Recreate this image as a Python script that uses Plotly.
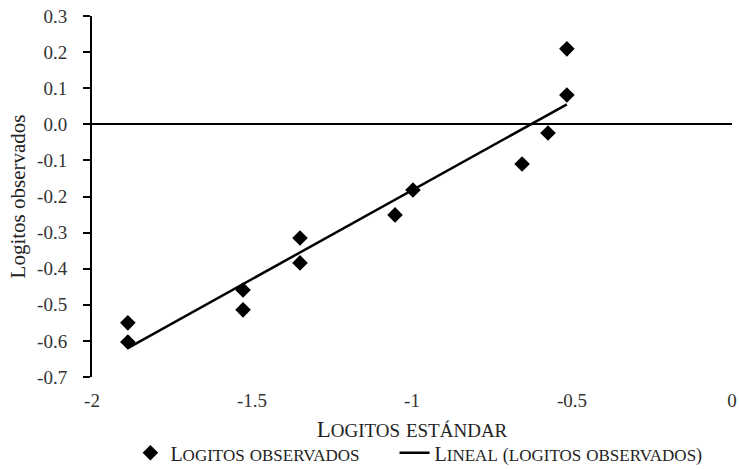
import numpy as np
import plotly.graph_objects as go

# Observed vs. standard logits
logitos_estandar = [-1.888, -1.888, -1.528, -1.528, -1.35, -1.35, -1.053, -0.997,
                    -0.656, -0.575, -0.516, -0.516]
logitos_observados = [-0.550, -0.603, -0.459, -0.514, -0.315, -0.384, -0.251, -0.182,
                      -0.110, -0.024, 0.081, 0.209]

x_ticks = [-2, -1.5, -1, -0.5, 0]
x_ticktext = ["-2", "-1.5", "-1", "-0.5", "0"]
y_ticks = [0.3, 0.2, 0.1, 0.0, -0.1, -0.2, -0.3, -0.4, -0.5, -0.6, -0.7]
y_ticktext = ["0.3", "0.2", "0.1", "0.0", "-0.1", "-0.2", "-0.3", "-0.4", "-0.5", "-0.6", "-0.7"]

# Linear trend line over the observed x range
slope, intercept = np.polyfit(logitos_estandar, logitos_observados, 1)
x_fit = np.array([min(logitos_estandar), max(logitos_estandar)])
y_fit = slope * x_fit + intercept

FONT = "Liberation Serif"


def small_caps(text, small):
    """Small capitals: initial capitals keep the base size, the rest are reduced."""
    out = []
    for ch in text:
        if ch.isalpha() and not ch.isupper():
            out.append(f'<span style="font-size:{small}px">{ch.upper()}</span>')
        elif ch in "()":
            out.append(f'<span style="font-size:{small + 1}px">{ch}</span>')
        else:
            out.append(ch)
    return "".join(out)


GAP = "\u00a0" * 6  # spacing between the two legend entries

fig = go.Figure()
fig.add_trace(go.Scatter(
    x=logitos_estandar, y=logitos_observados, mode="markers",
    name=small_caps("Logitos observados", 17) + GAP,
    marker=dict(symbol="diamond", size=12, color="black"),
))
fig.add_trace(go.Scatter(
    x=x_fit, y=y_fit, mode="lines",
    name=small_caps("Lineal (logitos observados)", 17),
    line=dict(color="black", width=2.5),
))

fig.update_layout(
    width=739, height=469,
    margin=dict(l=92, r=7, t=16, b=92, autoexpand=False),
    paper_bgcolor="white", plot_bgcolor="white",
    font=dict(family=FONT, size=21, color="#222"),
    showlegend=True,
    legend=dict(
        orientation="h", x=0.06, xanchor="left", y=-0.21, yanchor="middle",
        font=dict(family=FONT, size=20),
        itemwidth=30, tracegroupgap=0,
    ),
    xaxis=dict(
        range=[-2, 0], tickvals=x_ticks, ticktext=x_ticktext,
        showgrid=False, zeroline=False, showline=False, ticks="",
        automargin=False,
        tickfont=dict(size=19, color="#333"), ticklabelstandoff=10,
        title=dict(text=small_caps("Logitos estándar", 19), standoff=10,
                   font=dict(family=FONT, size=23)),
    ),
    yaxis=dict(
        range=[-0.7, 0.3], tickvals=y_ticks, ticktext=y_ticktext,
        showgrid=False, showline=True, linecolor="black", linewidth=2,
        zeroline=True, zerolinecolor="black", zerolinewidth=2,
        ticks="outside", ticklen=7, tickwidth=2, tickcolor="black",
        automargin=False,
        tickfont=dict(size=19, color="#333"), ticklabelstandoff=12,
        title=dict(text="Logitos observados", standoff=6,
                   font=dict(family=FONT, size=21)),
    ),
)

fig.write_html("out.html")
